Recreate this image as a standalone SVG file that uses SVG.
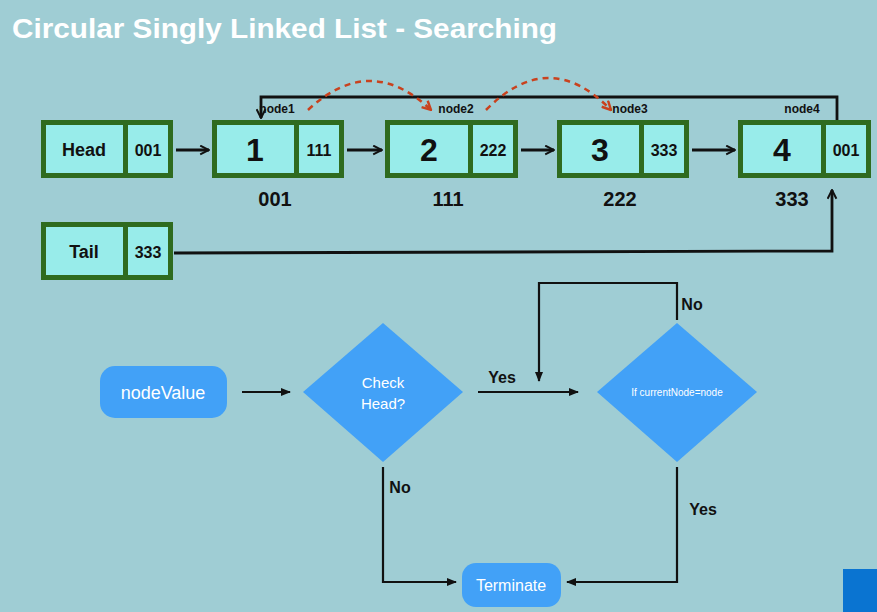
<svg xmlns="http://www.w3.org/2000/svg" width="877" height="612" viewBox="0 0 877 612">
<style>
.bg{fill:#9FCDD4}
.outer{fill:#2F6B1F}
.cell{fill:#98ECEA}
.t{font-family:"Liberation Sans",Arial,sans-serif;font-weight:bold;fill:#111;text-anchor:middle}
.w{font-family:"Liberation Sans",Arial,sans-serif;fill:#fff;text-anchor:middle}
.ln{fill:none;stroke:#111;stroke-width:2.2}
.lk{fill:none;stroke:#111;stroke-width:2.8}
.red{fill:none;stroke:#C9421E;stroke-width:2.5;stroke-dasharray:6 5}
.blue{fill:#42A1F7}
</style>
<defs>
<marker id="ah" viewBox="0 0 10 10" refX="9" refY="5" markerWidth="11" markerHeight="11" markerUnits="userSpaceOnUse" orient="auto"><path d="M1,1 L9,5 L1,9" fill="none" stroke="#111" stroke-width="1.8"/></marker>
<marker id="af" viewBox="0 0 10 10" refX="9" refY="5" markerWidth="10" markerHeight="10" markerUnits="userSpaceOnUse" orient="auto"><path d="M0,1 L10,5 L0,9 z" fill="#111"/></marker>
<marker id="ar" viewBox="0 0 10 10" refX="9" refY="5" markerWidth="11" markerHeight="11" markerUnits="userSpaceOnUse" orient="auto"><path d="M1,1 L9,5 L1,9" fill="none" stroke="#C9421E" stroke-width="2.2"/></marker>
</defs>
<rect class="bg" x="0" y="0" width="877" height="612"/>
<text x="12" y="38" font-family="'Liberation Sans',Arial,sans-serif" font-weight="bold" font-size="28" fill="#fff" textLength="545" lengthAdjust="spacingAndGlyphs">Circular Singly Linked List - Searching</text>

<g id="head">
<rect class="outer" x="41" y="120" width="132" height="58"/>
<rect class="cell" x="46" y="125" width="77" height="48"/>
<rect class="cell" x="128" y="125" width="40" height="48"/>
<text class="t" x="84" y="156" font-size="18">Head</text>
<text class="t" x="148" y="156" font-size="16">001</text>
</g>
<g id="node1">
<rect class="outer" x="212" y="120" width="132" height="58"/>
<rect class="cell" x="217" y="125" width="77" height="48"/>
<rect class="cell" x="299" y="125" width="40" height="48"/>
<text class="t" x="255" y="161" font-size="32">1</text>
<text class="t" x="319" y="156" font-size="16">111</text>
<text class="t" x="277" y="113" font-size="12">node1</text>
<text class="t" x="275" y="206" font-size="20">001</text>
</g>
<g id="node2">
<rect class="outer" x="385" y="120" width="133" height="58"/>
<rect class="cell" x="390" y="125" width="78" height="48"/>
<rect class="cell" x="473" y="125" width="40" height="48"/>
<text class="t" x="429" y="161" font-size="32">2</text>
<text class="t" x="493" y="156" font-size="16">222</text>
<text class="t" x="456" y="113" font-size="12">node2</text>
<text class="t" x="448" y="206" font-size="20">111</text>
</g>
<g id="node3">
<rect class="outer" x="557" y="120" width="132" height="58"/>
<rect class="cell" x="562" y="125" width="77" height="48"/>
<rect class="cell" x="644" y="125" width="40" height="48"/>
<text class="t" x="600" y="161" font-size="32">3</text>
<text class="t" x="664" y="156" font-size="16">333</text>
<text class="t" x="630" y="113" font-size="12">node3</text>
<text class="t" x="620" y="206" font-size="20">222</text>
</g>
<g id="node4">
<rect class="outer" x="738" y="120" width="133" height="58"/>
<rect class="cell" x="743" y="125" width="78" height="48"/>
<rect class="cell" x="826" y="125" width="40" height="48"/>
<text class="t" x="782" y="161" font-size="32">4</text>
<text class="t" x="846" y="156" font-size="16">001</text>
<text class="t" x="802" y="113" font-size="12">node4</text>
<text class="t" x="792" y="206" font-size="20">333</text>
</g>
<g id="tail">
<rect class="outer" x="41" y="222" width="132" height="58"/>
<rect class="cell" x="46" y="227" width="77" height="48"/>
<rect class="cell" x="128" y="227" width="40" height="48"/>
<text class="t" x="84" y="258" font-size="18">Tail</text>
<text class="t" x="148" y="258" font-size="16">333</text>
</g>

<g id="nodeValue">
<rect class="blue" x="100" y="366" width="127" height="52" rx="15"/>
<text class="w" x="163" y="399" font-size="18">nodeValue</text>
</g>
<g id="checkHead">
<polygon class="blue" points="383,323 463,392 383,462 303,392"/>
<text class="w" x="383" y="388" font-size="15">Check</text>
<text class="w" x="383" y="409" font-size="15">Head?</text>
</g>
<g id="ifCurrent">
<polygon class="blue" points="677,323 757,392 677,462 597,392"/>
<text class="w" x="677" y="396" font-size="10">If currentNode=node</text>
</g>
<g id="terminate">
<rect class="blue" x="462" y="563" width="99" height="44" rx="14"/>
<text class="w" x="511" y="591" font-size="16">Terminate</text>
</g>
<rect x="843" y="569" width="34" height="43" fill="#0A74D1"/>

<g id="connectors">
<line class="lk" x1="176" y1="150" x2="209" y2="150" marker-end="url(#ah)"/>
<line class="lk" x1="347" y1="150" x2="382" y2="150" marker-end="url(#ah)"/>
<line class="lk" x1="521" y1="150" x2="554" y2="150" marker-end="url(#ah)"/>
<line class="lk" x1="692" y1="150" x2="735" y2="150" marker-end="url(#ah)"/>
<polyline class="lk" points="837,120 837,97 261,97 261,118" marker-end="url(#ah)"/>
<polyline class="lk" points="174,253 832,251 832,190" marker-end="url(#ah)"/>
<path class="red" d="M308,110 Q370,52 431,110" marker-end="url(#ar)"/>
<path class="red" d="M486,110 Q549,46 611,110" marker-end="url(#ar)"/>

<line class="ln" x1="242" y1="392" x2="290" y2="392" marker-end="url(#af)"/>
<line class="ln" x1="478" y1="392" x2="578" y2="392" marker-end="url(#af)"/>
<text class="t" x="502" y="383" font-size="16">Yes</text>
<polyline class="ln" points="677,320 677,283 539,283 539,381" marker-end="url(#af)"/>
<text class="t" x="692" y="310" font-size="16">No</text>
<polyline class="ln" points="677,467 677,582 567,582" marker-end="url(#af)"/>
<text class="t" x="703" y="515" font-size="16">Yes</text>
<polyline class="ln" points="383,467 383,582 456,582" marker-end="url(#af)"/>
<text class="t" x="400" y="493" font-size="16">No</text>
</g>
</svg>
